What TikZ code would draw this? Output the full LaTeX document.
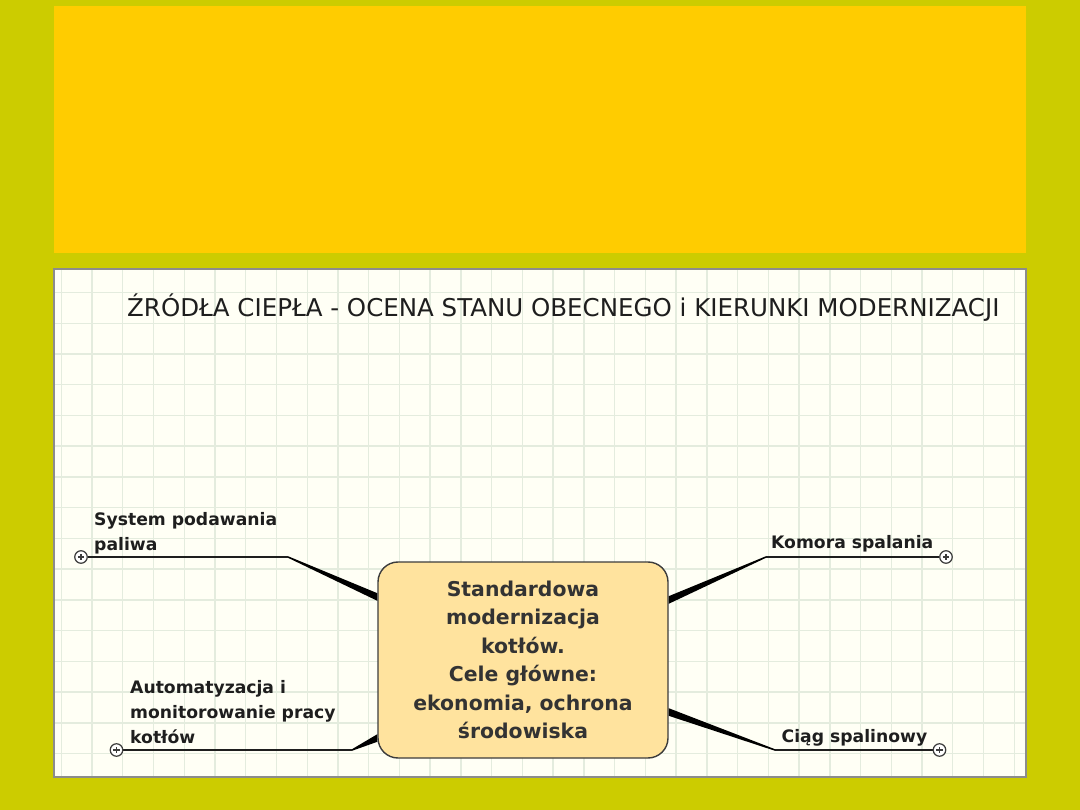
\documentclass[tikz,border=0pt]{standalone}
\usepackage{fontspec}
\setmainfont{DejaVu Sans}
\usetikzlibrary{calc}
\pgfdeclarelayer{back}
\pgfdeclarelayer{mid}
\pgfsetlayers{back,mid,main}
\definecolor{olivebg}{RGB}{204,204,0}
\definecolor{topbox}{RGB}{255,204,0}
\definecolor{panelfill}{RGB}{255,255,245}
\definecolor{gridcol}{RGB}{228,236,222}
\definecolor{panelborder}{RGB}{140,140,140}
\definecolor{centerfill}{RGB}{255,227,158}
\definecolor{centerborder}{RGB}{60,60,60}
\definecolor{textdark}{RGB}{30,30,30}
\definecolor{centertext}{RGB}{51,51,51}
\tikzset{
  gridline/.style={draw=gridcol, line width=1.4pt},
  centerbox/.style={draw=centerborder, fill=centerfill, line width=1.4pt,
    rounded corners=20pt, minimum width=290pt, minimum height=196pt,
    align=center, text=centertext, inner sep=0pt,
    font=\bfseries\fontsize{20.4}{28.5}\selectfont},
  branchlabel/.style={inner sep=0pt, align=left, text=textdark,
    font=\bfseries\fontsize{17.2}{25}\selectfont},
  plusknob/.style={circle, draw=centerborder, fill=white, line width=1.2pt,
    minimum size=12.5pt, inner sep=0pt,
    path picture={\draw[line width=1.1pt, centerborder]
      ($(path picture bounding box.center)+(-3.2,0)$) -- ++(6.4,0)
      ($(path picture bounding box.center)+(0,-3.2)$) -- ++(0,6.4);}},
  thinline/.style={draw=textdark, line width=1.5pt},
  taper/.style={fill=black},
}
\begin{document}
\begin{tikzpicture}[x=1pt,y=-1pt]
\useasboundingbox (0,0) rectangle (1080,810);
\begin{pgfonlayer}{back}
\fill[olivebg] (0,0) rectangle (1080,810);
\fill[topbox] (54,6) rectangle (1026,253);
\fill[panelfill] (54,269) rectangle (1026,777);
\foreach \i in {0,...,31} \draw[gridline] ({61.3+30.74*\i},270) -- ({61.3+30.74*\i},776);
\foreach \j in {0,...,15} \draw[gridline] (55,{292.5+30.74*\j}) -- (1025,{292.5+30.74*\j});
\draw[panelborder, line width=1.5pt] (54,269) rectangle (1026,777);
\end{pgfonlayer}

\node[anchor=base west, inner sep=0pt, text=textdark, font=\fontsize{24.5}{29}\selectfont]
  (title) at (127,316.7) {ŹRÓDŁA CIEPŁA - OCENA STANU OBECNEGO i KIERUNKI MODERNIZACJI};

\node[centerbox] (c) at (523,660) {Standardowa\\modernizacja\\kotłów.\\Cele główne:\\ekonomia, ochrona\\środowiska};

\node[plusknob] (k1) at (81,557) {};
\node[plusknob] (k2) at (946,557) {};
\node[plusknob] (k3) at (116.5,750) {};
\node[plusknob] (k4) at (939.5,750) {};

\coordinate (e1) at (288,557);
\coordinate (e2) at (766,557);
\coordinate (e3) at (352,750);
\coordinate (e4) at (775,750);

\coordinate (a1) at ([yshift=63pt]c.west);
\coordinate (a2) at ([yshift=60pt]c.east);
\coordinate (a3) at ([yshift=-78pt]c.west);
\coordinate (a4) at ([yshift=-52pt]c.east);

\node[branchlabel, anchor=north west] (l1) at (94,512) {System podawania\\paliwa};
\node[branchlabel, anchor=base west] (l2) at (771,548) {Komora spalania};
\node[branchlabel, anchor=north west] (l3) at (130,680) {Automatyzacja i\\monitorowanie pracy\\kotłów};
\node[branchlabel, anchor=base west] (l4) at (781.5,742) {Ciąg spalinowy};

\begin{pgfonlayer}{mid}
\draw[thinline] (k1) -- (e1);
\draw[thinline] (k2) -- (e2);
\draw[thinline] (k3) -- (e3);
\draw[thinline] (k4) -- (e4);
\foreach \e/\a in {e1/a1,e2/a2,e3/a3,e4/a4}
  \fill[taper] ([yshift=0.8pt]\e) -- ([yshift=3.8pt]\a) -- ([yshift=-3.8pt]\a) -- ([yshift=-0.8pt]\e) -- cycle;
\end{pgfonlayer}
\end{tikzpicture}
\end{document}
